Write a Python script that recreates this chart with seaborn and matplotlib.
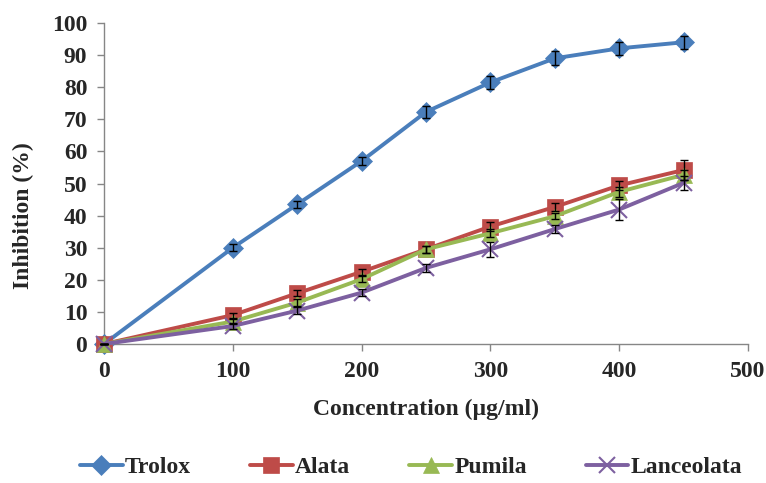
import numpy as np
import pandas as pd
import matplotlib
matplotlib.use("Agg")
import matplotlib.pyplot as plt
import seaborn as sns

# Data
conc = [0, 100, 150, 200, 250, 300, 350, 400, 450]
trolox = [0, 30.0, 43.5, 57.0, 72.3, 81.5, 89.0, 92.1, 94.0]
alata = [0, 9.0, 15.8, 22.5, 29.5, 36.6, 42.7, 49.4, 54.2]
pumila = [0, 7.0, 12.9, 20.2, 29.5, 34.5, 39.8, 47.4, 52.7]
lanceolata = [0, 5.6, 10.4, 16.0, 23.7, 29.5, 35.8, 41.9, 50.2]

trolox_err = [0, 1.0, 1.0, 1.2, 1.8, 2.0, 2.2, 2.0, 2.0]
alata_err = [0, 0.8, 1.0, 1.0, 1.0, 1.5, 1.2, 1.5, 3.0]
pumila_err = [0, 0.8, 1.0, 1.0, 1.0, 1.2, 1.0, 1.5, 1.5]
lanceolata_err = [0, 0.8, 1.2, 1.0, 1.2, 2.3, 1.3, 3.4, 2.2]

names = ["Trolox", "Alata", "Pumila", "Lanceolata"]
colors = ["#4A7EBB", "#BE4B48", "#98B954", "#7D60A0"]
markers = ["D", "s", "^", "x"]
msizes = [10, 11, 11, 11]

series = [trolox, alata, pumila, lanceolata]
errors = [trolox_err, alata_err, pumila_err, lanceolata_err]

df = pd.DataFrame({
    "conc": conc * 4,
    "value": trolox + alata + pumila + lanceolata,
    "series": sum([[n] * len(conc) for n in names], []),
})

sns.set_style("white")
plt.rcParams["font.family"] = ["Liberation Serif", "DejaVu Serif"]
plt.rcParams["font.weight"] = "bold"

fig = plt.figure(figsize=(7.66, 4.83), dpi=100)
ax = fig.add_axes([104 / 766, 1 - 344 / 483, (748 - 104) / 766, (344 - 23) / 483])

for name, col, mk, ms in zip(names, colors, markers, msizes):
    sub = df[df["series"] == name]
    sns.lineplot(data=sub, x="conc", y="value", ax=ax, color=col, lw=2.8,
                 marker=mk, markersize=ms, markeredgecolor=col,
                 markeredgewidth=1.5 if mk == "x" else 0.5, label=name,
                 clip_on=False, zorder=3)

for vals, err in zip(series, errors):
    ax.errorbar(conc, vals, yerr=err, fmt="none", ecolor="black",
                elinewidth=1, capsize=3, capthick=1, zorder=4, clip_on=False)

ax.set_xlim(0, 500)
ax.set_ylim(0, 100)
ax.set_xticks(range(0, 501, 100))
ax.set_yticks(range(0, 101, 10))
ax.tick_params(axis="both", labelsize=17, length=5, width=1, color="#868686",
               direction="out", bottom=True, left=True, pad=7)
for lab in ax.get_xticklabels() + ax.get_yticklabels():
    lab.set_fontweight("bold")

for side in ["top", "right"]:
    ax.spines[side].set_visible(False)
for side in ["left", "bottom"]:
    ax.spines[side].set_color("#868686")
    ax.spines[side].set_linewidth(1)

ax.set_xlabel("Concentration (µg/ml)", fontsize=17, fontweight="bold")
ax.set_ylabel("Inhibition (%)", fontsize=17, fontweight="bold")
ax.xaxis.set_label_coords(0.5, -0.17)
ax.yaxis.set_label_coords(-0.109, 0.40)

leg = ax.legend(loc="center", bbox_to_anchor=(0.477, -0.385), ncol=4,
                frameon=False, fontsize=17, handlelength=1.8, columnspacing=2.5,
                handletextpad=0.1, borderpad=0.2)
for t in leg.get_texts():
    t.set_fontweight("bold")

fig.savefig("out.png", dpi=100)
